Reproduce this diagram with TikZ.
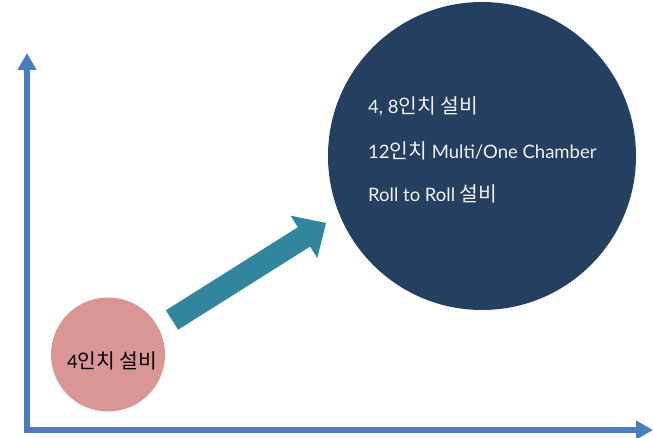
\documentclass[tikz,border=0pt]{standalone}
\usepackage{fontspec}
\setmainfont{Lato}
\newfontfamily\kr{Noto Sans CJK KR}[Scale=1.1]
\usetikzlibrary{arrows.meta}
\definecolor{axisblue}{HTML}{4A7EBB}
\definecolor{navy}{HTML}{243F60}
\definecolor{pinkc}{HTML}{D99694}
\definecolor{tealc}{HTML}{31859C}
\definecolor{lighttext}{HTML}{F2F2F2}
\tikzset{
  axisline/.style={draw=axisblue, line width=6pt, -{Triangle[length=17pt,width=18pt]}},
  lbl/.style={font=\fontsize{18.5}{21}\selectfont, inner sep=0pt}
}
\begin{document}
\begin{tikzpicture}[x=1pt,y=-1pt]
\useasboundingbox (0,0) rectangle (653,438);
% axes
\coordinate (O) at (27,433);
\coordinate (Ytip) at (27,53);
\coordinate (Hs) at (24,430);
\coordinate (Xtip) at (653,430);
\draw[axisline] (O) -- (Ytip);
\draw[axisline] (Hs) -- (Xtip);
% circles
\node[circle, fill=navy, minimum size=308pt, inner sep=0pt] (big) at (482,156) {};
\node[circle, fill=pinkc, minimum size=114pt, inner sep=0pt] (small) at (108,354.5) {};
% texts
\node[lbl, text=black, anchor=west] (t0) at (67,361) {4{\kr 인치 설비}};
\node[lbl, text=lighttext, anchor=west] (t1) at (368,106) {4, 8{\kr 인치 설비}};
\node[lbl, text=lighttext, anchor=west] (t2) at (368,151) {12{\kr 인치} Multi/One Chamber};
\node[lbl, text=lighttext, anchor=west] (t3) at (368,194) {Roll to Roll {\kr 설비}};
% growth arrow
\fill[tealc] (178.1,329.7) -- (165.9,310.3) -- (297.9,227.2) -- (290.7,215.7)
  -- (326,223) -- (317.3,258.1) -- (310.1,246.6) -- cycle;
\end{tikzpicture}
\end{document}
